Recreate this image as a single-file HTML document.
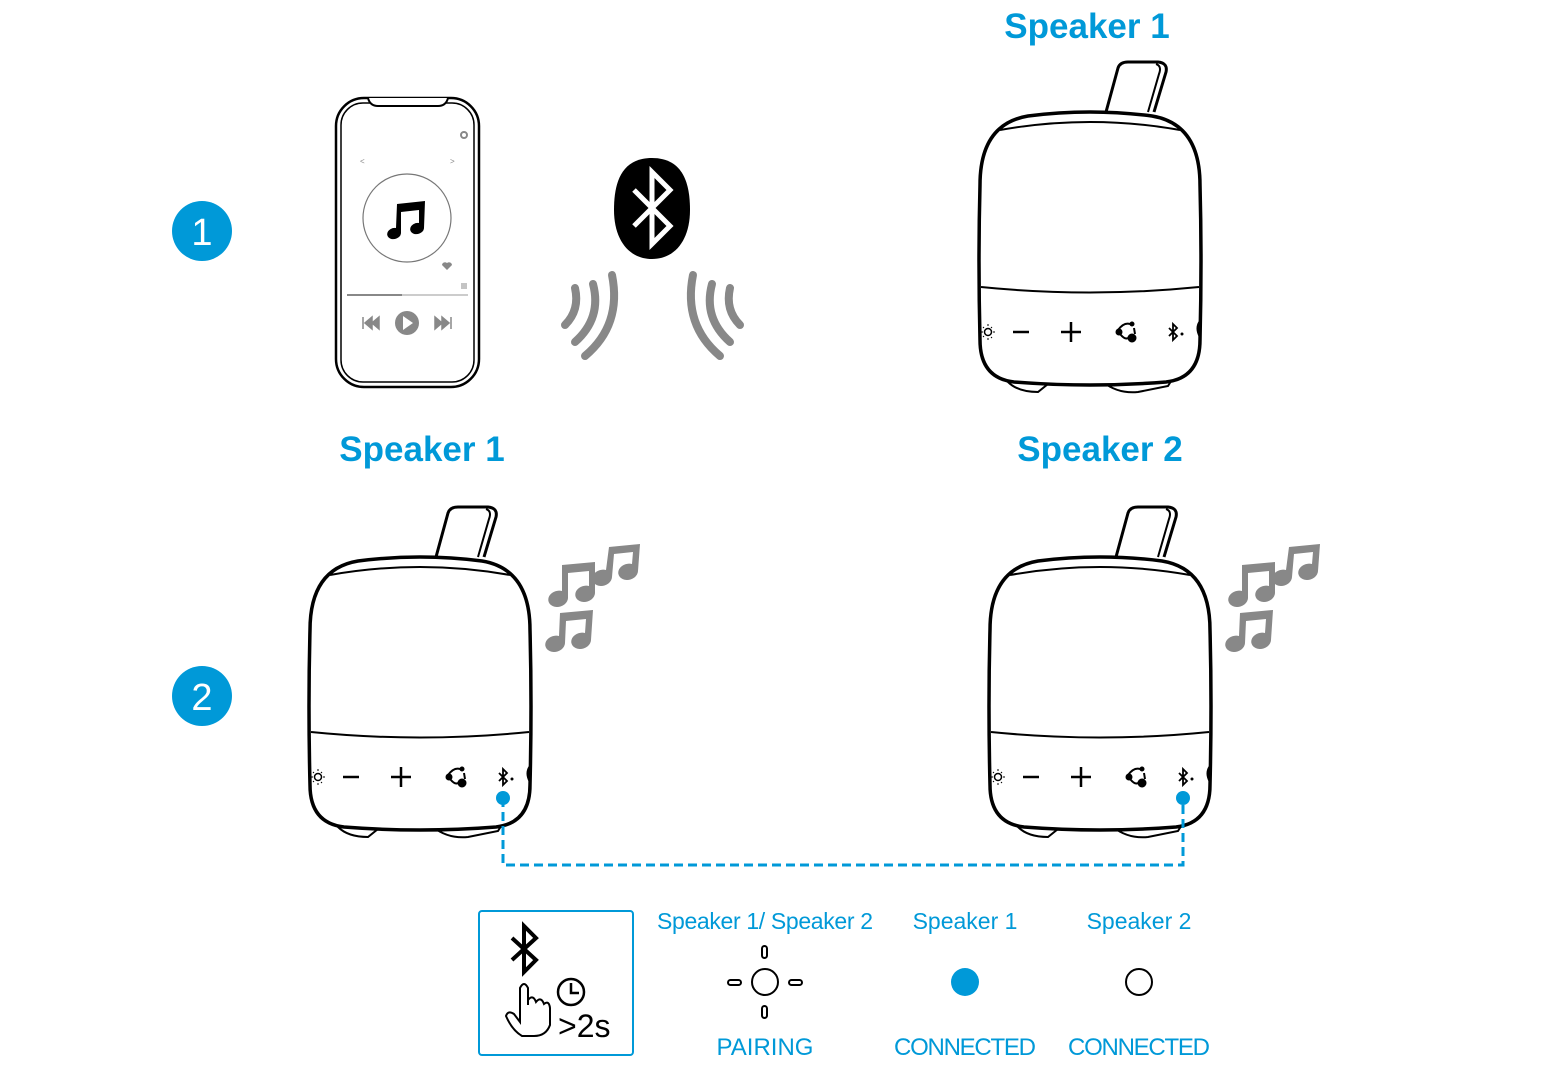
<!DOCTYPE html>
<html><head><meta charset="utf-8"><style>body{margin:0;background:#fff}svg{display:block}</style></head><body>
<svg width="1559" height="1071" viewBox="0 0 1559 1071" xmlns="http://www.w3.org/2000/svg" font-family="Liberation Sans, sans-serif">
<defs>
<g id="spk" fill="none" stroke="#000">
 <path d="M128,52 L140,8 Q142,2 150,2 L180,2 Q190,3 188,12 L176,52" stroke-width="3" fill="#fff"/>
 <path d="M178,4 Q184,6 181,14 L170,52" stroke-width="2"/>
 <path d="M30,322 Q40,332 60,332 L70,324 Z M125,322 Q140,334 160,332 L190,326 L195,318Z" stroke-width="2" fill="#fff"/>
 <path d="M50,56 Q112,48 174,56 Q222,64 222,125 Q224,200 222,280 Q222,318 188,322 Q112,328 36,322 Q2,318 2,280 Q0,200 2,125 Q2,64 50,56 Z" stroke-width="3.5" fill="#fff"/>
 <path d="M22,70 Q112,54 202,70" stroke-width="2"/>
 <path d="M3,227 Q112,238 221,227" stroke-width="2"/>
 <circle cx="10" cy="272" r="3.5" stroke-width="1.5"/>
 <path d="M10,264v2M10,278v2M3,272h2M15,272h2M5,267l1,1M14,267l-1,1M5,277l1,-1M14,277l-1,1" stroke-width="1"/>
 <path d="M35,272h16" stroke-width="2.5"/>
 <path d="M83,272h20M93,262v20" stroke-width="2.5"/>
 <path d="M140,270 Q146,262 152,264 M142,274 Q147,280 150,278 M156,268 L157,274" stroke-width="2"/>
 <circle cx="141" cy="272" r="3" fill="#000"/><circle cx="154" cy="264" r="2" fill="#000"/><circle cx="154" cy="278" r="4" fill="#000"/>
 <path d="M191,268 L199,276 L195,280 L195,264 L199,268 L191,276" stroke-width="1.8"/>
 <circle cx="204" cy="274" r="1" fill="#000"/>
 <path d="M222,262 Q218,268 222,276" stroke-width="3"/>
</g>
<g id="notes" fill="#888">
 <path d="M22,22 L55,19 L55,50 A10,8 -15 1 1 49,43 L49,28 L28,30 L28,55 A10,8 -15 1 1 22,48 Z"/>
 <path d="M69,4 L100,1 L98,28 A10,8 -15 1 1 92,21 L93,9 L74,11 L72,34 A10,8 -15 1 1 66,27 Z"/>
 <path d="M20,70 L53,67 L51,97 A10,8 -15 1 1 45,90 L46,76 L26,78 L25,100 A10,8 -15 1 1 19,93 Z"/>
</g>
</defs>

<circle cx="202" cy="231" r="30" fill="#0099d8"/>
<text x="202" y="245" fill="#fff" font-size="38" text-anchor="middle">1</text>
<circle cx="202" cy="696" r="30" fill="#0099d8"/>
<text x="202" y="710" fill="#fff" font-size="38" text-anchor="middle">2</text>

<g fill="#0099d8" font-weight="bold" font-size="35">
<text x="1087" y="38" text-anchor="middle">Speaker 1</text>
<text x="422" y="461" text-anchor="middle">Speaker 1</text>
<text x="1100" y="461" text-anchor="middle">Speaker 2</text>
</g>

<g fill="none" stroke="#000">
<rect x="336" y="98" width="143" height="289" rx="28" stroke-width="2.5"/>
<rect x="341" y="103" width="133" height="279" rx="22" stroke-width="1.5"/>
<path d="M368,98 Q370,106 378,106 L438,106 Q446,106 448,98" stroke-width="2" fill="#fff"/>
<circle cx="407" cy="218" r="44" stroke="#777" stroke-width="1.2"/>
</g>
<circle cx="464" cy="135" r="3" fill="none" stroke="#888" stroke-width="2"/>
<text x="360" y="164" font-size="8" fill="#888">&lt;</text><text x="450" y="164" font-size="8" fill="#888">&gt;</text>
<path d="M397,204 L425,201 L424,228 A7,5.5 -15 1 1 419,223 L419,210 L401,212 L401,233 A7,5.5 -15 1 1 396,228 Z" fill="#000"/>
<path d="M447,270 L442,265 A3,3 0 0 1 447,263 A3,3 0 0 1 452,265 Z" fill="#888"/>
<path d="M461,284h6M461,286h6M461,288h6" stroke="#888" stroke-width="1"/>
<line x1="347" y1="295" x2="468" y2="295" stroke="#ccc" stroke-width="2"/>
<line x1="347" y1="295" x2="402" y2="295" stroke="#888" stroke-width="2"/>
<circle cx="407" cy="323" r="12" fill="#888"/><path d="M403,316 L413,323 L403,330Z" fill="#fff"/>
<path d="M363,317v12M365,323l7,-6v12zM372,323l7,-6v12z" fill="#888" stroke="#888" stroke-width="1.5"/>
<path d="M451,317v12M449,323l-7,-6v12zM442,323l-7,-6v12z" fill="#888" stroke="#888" stroke-width="1.5"/>

<path d="M652,158 C684,158 690,185 690,210 C690,240 675,259 652,259 C629,259 614,240 614,210 C614,185 620,158 652,158Z" fill="#000"/>
<path d="M634,190 L670,226 L652,244 L652,172 L670,190 L634,226" fill="none" stroke="#fff" stroke-width="5"/>
<g fill="none" stroke="#888" stroke-width="8" stroke-linecap="round">
<path d="M575,288 Q580,310 565,325"/><path d="M593,284 Q602,318 575,342"/><path d="M612,275 Q622,325 585,356"/>
<path d="M730,288 Q725,310 740,325"/><path d="M712,284 Q703,318 730,342"/><path d="M693,275 Q683,325 720,356"/>
</g>

<use href="#spk" x="978" y="60"/>
<use href="#spk" x="308" y="505"/>
<use href="#spk" x="988" y="505"/>
<use href="#notes" x="540" y="543"/>
<use href="#notes" x="1220" y="543"/>

<path d="M503,798 V865 H1183 V798" fill="none" stroke="#0099d8" stroke-width="3" stroke-dasharray="9,5"/>
<circle cx="503" cy="798" r="7" fill="#0099d8"/>
<circle cx="1183" cy="798" r="7" fill="#0099d8"/>

<rect x="479" y="911" width="154" height="144" rx="3" fill="none" stroke="#0099d8" stroke-width="2"/>
<path d="M512,938 L536,960 L524,972 L524,926 L536,938 L512,960" fill="none" stroke="#000" stroke-width="4"/>
<path d="M520,1022 L520,988 Q524,980 528,988 L528,1005 L528,1000 Q533,994 536,1002 Q541,996 544,1004 Q549,1000 550,1008 L550,1025 Q546,1036 534,1036 L522,1036 Q512,1030 506,1016 Q508,1010 514,1014 Z" fill="none" stroke="#000" stroke-width="2"/>
<circle cx="571" cy="992" r="13" fill="none" stroke="#000" stroke-width="2.5"/>
<path d="M571,983v10h8" fill="none" stroke="#000" stroke-width="2.5"/>
<text x="558" y="1037" font-size="32">&gt;2s</text>

<g fill="#0099d8" font-size="23" text-anchor="middle">
<text x="765" y="929" textLength="216">Speaker 1/ Speaker 2</text>
<text x="965" y="929">Speaker 1</text>
<text x="1139" y="929">Speaker 2</text>
<text x="765" y="1055" font-size="24">PAIRING</text>
<text x="965" y="1055" font-size="24" textLength="142">CONNECTED</text>
<text x="1139" y="1055" font-size="24" textLength="142">CONNECTED</text>
</g>
<g fill="none" stroke="#000" stroke-width="2">
<circle cx="765" cy="982" r="13"/>
<rect x="762" y="946" width="5" height="12" rx="2.5"/>
<rect x="762" y="1006" width="5" height="12" rx="2.5"/>
<rect x="728" y="980" width="13" height="5" rx="2.5"/>
<rect x="789" y="980" width="13" height="5" rx="2.5"/>
<circle cx="1139" cy="982" r="13"/>
</g>
<circle cx="965" cy="982" r="14" fill="#0099d8"/>
</svg>
</body></html>
